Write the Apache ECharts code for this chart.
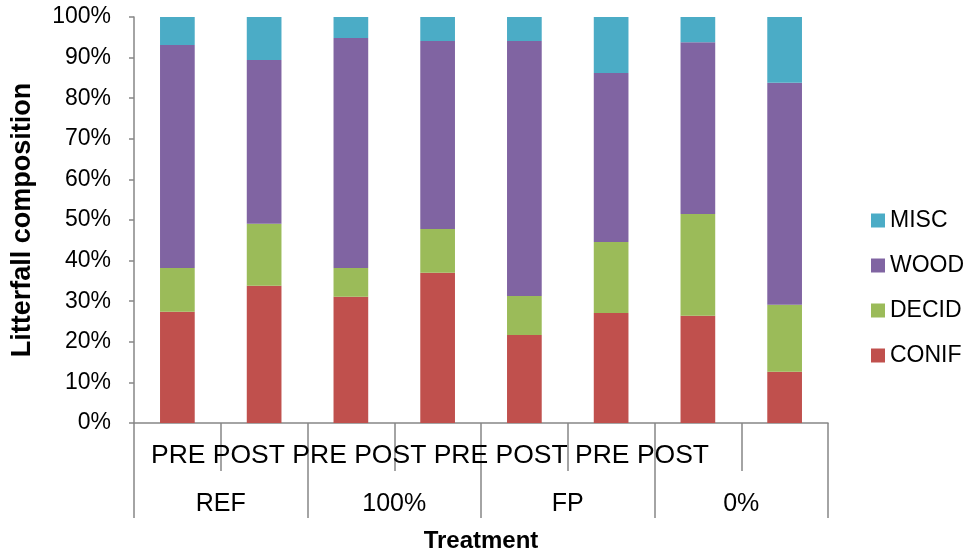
<!DOCTYPE html>
<html>
<head>
<meta charset="utf-8">
<script src="https://cdn.jsdelivr.net/npm/echarts@6/dist/echarts.min.js"></script>
<style>
  html, body { margin: 0; padding: 0; background: #fff; }
  #chart { width: 975px; height: 552px; }
</style>
</head>
<body>
<div id="chart"></div>
<script>
// ---- data ----
var groups = ['REF', '100%', 'FP', '0%'];
var periods = ['PRE', 'POST', 'PRE', 'POST', 'PRE', 'POST', 'PRE', 'POST'];
var categories = ['REF PRE', 'REF POST', '100% PRE', '100% POST', 'FP PRE', 'FP POST', '0% PRE', '0% POST'];
var conif = [27.4, 33.8, 31.1, 37.0, 21.7, 27.1, 26.4, 12.6];
var decid = [10.8, 15.25, 7.1, 10.8, 9.6, 17.5, 25.1, 16.5];
var wood  = [54.9, 40.35, 56.6, 46.3, 62.8, 41.6, 42.3, 54.7];
var misc  = [6.9, 10.6, 5.2, 5.9, 5.9, 13.8, 6.2, 16.2];
var yTicks = [0, 100, 10];

var FONT = '"Liberation Sans", Arial, sans-serif';
var AXIS = '#868686';

var chart = echarts.init(document.getElementById('chart'));
function bar(name, data, color) {
  return { name: name, type: 'bar', stack: 'total', data: data, barWidth: '40%',
           itemStyle: { color: color }, xAxisIndex: 0 };
}
chart.setOption({
  animation: false,
  textStyle: { fontFamily: FONT },
  grid: { left: 134, right: 147, top: 17, bottom: 129, containLabel: false, outerBoundsMode: 'none' },
  legend: {
    orient: 'vertical', left: 871, top: 209, padding: 0, itemWidth: 14, itemHeight: 14, itemGap: 22,
    icon: 'rect',
    data: ['MISC', 'WOOD', 'DECID', 'CONIF'],
    textStyle: { fontSize: 23, color: '#000', fontFamily: FONT, lineHeight: 23 }
  },
  xAxis: [
    { type: 'category', data: categories, position: 'bottom',
      axisLine: { lineStyle: { color: AXIS, width: 1.5 } },
      axisTick: { show: true, interval: 0, length: 48, lineStyle: { color: AXIS, width: 1.5 } },
      axisLabel: { show: false } },
    { type: 'category', data: groups, position: 'bottom', offset: 48,
      axisLine: { show: false },
      axisTick: { show: true, interval: 0, length: 47, lineStyle: { color: AXIS, width: 1.5 } },
      axisLabel: { interval: 0, fontSize: 25, color: '#000', margin: 21, fontFamily: FONT },
      name: 'Treatment', nameLocation: 'middle', nameGap: 58,
      nameTextStyle: { fontSize: 24, fontWeight: 'bold', color: '#000', fontFamily: FONT } },
    { type: 'category', data: [periods.join(' ')], position: 'bottom',
      axisLine: { show: false }, axisTick: { show: false },
      axisLabel: { fontSize: 26.5, color: '#000', margin: 19, fontFamily: FONT,
        formatter: function (v) { return '{a|' + v + '}'; },
        rich: { a: { fontSize: 26.5, color: '#000', fontFamily: FONT, padding: [0, 102, 0, 0] } } } }
  ],
  yAxis: {
    type: 'value', min: yTicks[0], max: yTicks[1], interval: yTicks[2],
    axisLine: { show: true, lineStyle: { color: AXIS, width: 1.5 } },
    axisTick: { show: true, length: 5, lineStyle: { color: AXIS, width: 1.5 } },
    splitLine: { show: false },
    axisLabel: { formatter: '{value}%', fontSize: 23, color: '#000', margin: 23, fontFamily: FONT },
    name: 'Litterfall composition', nameLocation: 'middle', nameGap: 98,
    nameTextStyle: { fontSize: 27, fontWeight: 'bold', color: '#000', fontFamily: FONT }
  },
  series: [
    bar('CONIF', conif, '#C0504D'),
    bar('DECID', decid, '#9BBB59'),
    bar('WOOD', wood, '#8064A2'),
    bar('MISC', misc, '#4BACC6')
  ]
});
</script>
</body>
</html>
